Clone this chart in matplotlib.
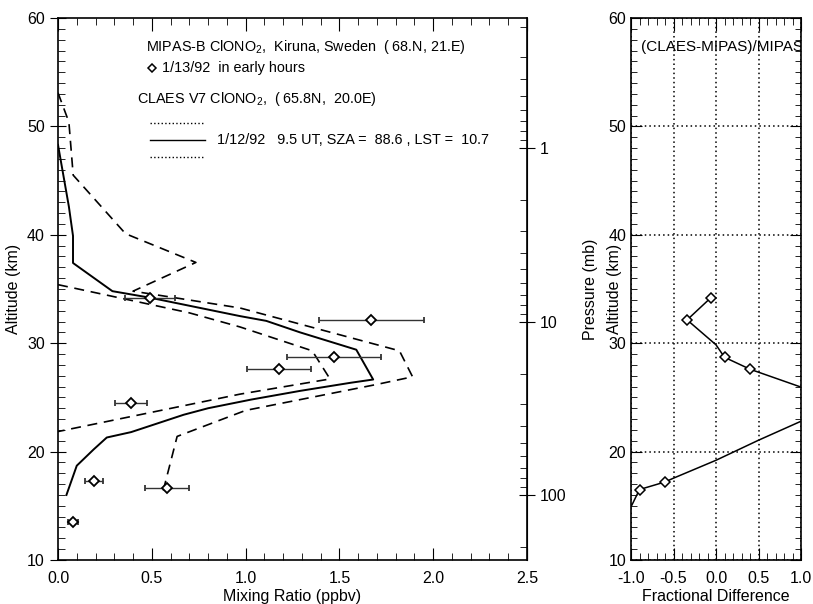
import numpy as np
import matplotlib.pyplot as plt
from matplotlib.lines import Line2D
from matplotlib.ticker import MultipleLocator, LogLocator, FixedLocator, FuncFormatter

plt.rcParams['font.family'] = ['Liberation Sans', 'DejaVu Sans']
plt.rcParams['mathtext.fontset'] = 'custom'
plt.rcParams['mathtext.rm'] = 'Liberation Sans'
plt.rcParams['mathtext.it'] = 'Liberation Sans'

# MIPAS-B balloon profile (1/13/92)
mipas_x = [0.49, 1.67, 1.47, 1.18, 0.39, 0.19, 0.58, 0.08]
mipas_alt = [34.2, 32.1, 28.7, 27.6, 24.5, 17.3, 16.6, 13.5]
mipas_err = [0.135, 0.28, 0.25, 0.17, 0.085, 0.048, 0.118, 0.025]

# CLAES V7 profile and its error envelope
claes_x = [0.0, 0.058, 0.08, 0.08, 0.29, 0.49, 0.97, 1.11, 1.29, 1.59, 1.68,
           1.56, 1.29, 1.03, 0.80, 0.67, 0.39, 0.26, 0.19, 0.10, 0.045]
claes_alt = [48.3, 42.6, 39.9, 37.4, 34.8, 34.2, 32.5, 32.06, 31.0, 29.4, 26.65,
             26.35, 25.6, 24.8, 24.0, 23.4, 21.8, 21.3, 20.2, 18.7, 16.0]
hi_x = [0.0, 0.058, 0.081, 0.36, 0.735, 0.40, 0.97, 1.82, 1.89, 1.70, 1.00, 0.635, 0.555]
hi_alt = [53.1, 50.4, 45.5, 40.1, 37.45, 34.8, 33.25, 29.3, 26.9, 26.2, 23.8, 21.4, 16.0]
lo_x = [0.0, 0.70, 0.97, 1.355, 1.45, 0.97, 0.0]
lo_alt = [35.4, 32.8, 31.5, 29.3, 26.7, 25.3, 21.85]

# fractional difference (CLAES-MIPAS)/MIPAS
fd_up_x = [-0.06, -0.34, 0.0, 0.10, 0.40, 1.0]
fd_up_alt = [34.2, 32.15, 29.85, 28.7, 27.6, 25.95]
fd_lo_x = [-1.0, -0.9, -0.6, -0.5, 0.0, 0.5, 1.0]
fd_lo_alt = [14.9, 16.5, 17.2, 17.55, 19.2, 21.05, 22.8]
fd_pts_x = [-0.06, -0.34, 0.10, 0.40, -0.90, -0.60]
fd_pts_alt = [34.2, 32.15, 28.7, 27.6, 16.5, 17.2]

# pressure scale: alt = 48 - 16*log10(p)
def alt2p(a):
    return 10 ** ((48.0 - np.asarray(a, float)) / 16.0)

def p2alt(p):
    return 48.0 - 16.0 * np.log10(np.clip(np.asarray(p, float), 1e-6, None))

fig = plt.figure(figsize=(8.13, 6.04), dpi=100)
ax = fig.add_axes([58 / 813, 1 - 560 / 604, 469 / 813, 542 / 604])
ax2 = fig.add_axes([631 / 813, 1 - 560 / 604, 170 / 813, 542 / 604])

dash = (0, (6, 4))
ax.plot(claes_x, claes_alt, color='black', lw=1.4)
ax.plot(hi_x, hi_alt, color='black', lw=1.2, linestyle=dash)
ax.plot(lo_x, lo_alt, color='black', lw=1.2, linestyle=dash)
ax.errorbar(mipas_x, mipas_alt, xerr=mipas_err, fmt='D', mfc='white', mec='black',
            mew=1.3, ms=5, ecolor='#333333', elinewidth=1.0, capsize=2, capthick=1.0,
            zorder=5)

ax.set_xlim(0, 2.5)
ax.set_ylim(10, 60)
ax.xaxis.set_major_locator(MultipleLocator(0.5))
ax.xaxis.set_minor_locator(MultipleLocator(0.1))
ax.yaxis.set_major_locator(MultipleLocator(10))
ax.yaxis.set_minor_locator(MultipleLocator(1))
ax.xaxis.set_major_formatter(FuncFormatter(lambda v, p: f'{v:.1f}'))
ax.tick_params(axis='x', which='both', direction='in', top=True, labelsize=11.5, pad=8)
ax.tick_params(axis='x', which='major', length=9)
ax.tick_params(axis='x', which='minor', length=5)
ax.tick_params(axis='y', which='major', direction='inout', length=12, labelsize=11.5, right=False)
ax.tick_params(axis='y', which='minor', direction='in', length=5, right=False)
ax.set_xlabel('Mixing Ratio (ppbv)', fontsize=11.5, labelpad=2)
ax.set_ylabel('Altitude (km)', fontsize=11.5, labelpad=4)

sec = ax.secondary_yaxis('right', functions=(alt2p, p2alt))
sec.yaxis.set_major_locator(FixedLocator([1, 10, 100]))
sec.yaxis.set_minor_locator(LogLocator(base=10, subs=np.arange(2, 10)))
sec.yaxis.set_major_formatter(FuncFormatter(lambda v, p: f'{v:g}'))
sec.yaxis.set_minor_formatter(FuncFormatter(lambda v, p: ''))
sec.tick_params(which='major', direction='inout', length=12, labelsize=11.5)
sec.tick_params(which='minor', direction='in', length=5)
sec.set_ylabel('Pressure (mb)', fontsize=11.5, labelpad=12)

for s in ax.spines.values():
    s.set_linewidth(1.2)

# legend block drawn as text
tx = ax.transAxes
def fx(v):
    return v / 2.5

def fy(a):
    return (a - 10) / 50.0

ax.text(fx(0.47), fy(57.3), 'MIPAS-B ClONO$_2$,  Kiruna, Sweden  ( 68.N, 21.E)',
        transform=tx, fontsize=10.4, va='center')
ax.plot([fx(0.50)], [fy(55.4)], 'D', mfc='white', mec='black', mew=1.1, ms=4, transform=tx)
ax.text(fx(0.557), fy(55.4), '1/13/92  in early hours', transform=tx, fontsize=10.4, va='center')
ax.text(fx(0.42), fy(52.5), 'CLAES V7 ClONO$_2$,  ( 65.8N,  20.0E)',
        transform=tx, fontsize=10.4, va='center')
for yy, st in [(50.3, ':'), (48.7, '-'), (47.2, ':')]:
    ax.add_line(Line2D([fx(0.493), fx(0.786)], [fy(yy), fy(yy)], color='black',
                       lw=1.0, linestyle=st, transform=tx))
ax.text(fx(0.849), fy(48.7), '1/12/92   9.5 UT, SZA =  88.6 , LST =  10.7',
        transform=tx, fontsize=10.4, va='center')

# right panel
ax2.plot(fd_up_x, fd_up_alt, color='black', lw=1.1)
ax2.plot(fd_lo_x, fd_lo_alt, color='black', lw=1.1)
ax2.plot(fd_pts_x, fd_pts_alt, 'D', mfc='white', mec='black', mew=1.1, ms=5, zorder=5)
ax2.set_xlim(-1, 1)
ax2.set_ylim(10, 60)
ax2.xaxis.set_major_locator(MultipleLocator(0.5))
ax2.xaxis.set_minor_locator(MultipleLocator(0.1))
ax2.yaxis.set_major_locator(MultipleLocator(10))
ax2.yaxis.set_minor_locator(MultipleLocator(1))
ax2.xaxis.set_major_formatter(FuncFormatter(lambda v, p: f'{v:.1f}'))
ax2.grid(True, which='major', color='black', linestyle=(0, (1, 2)), lw=1.1)
ax2.tick_params(axis='both', which='both', direction='in', top=True, right=True, labelsize=11.5)
ax2.tick_params(axis='x', which='major', length=9, pad=8)
ax2.tick_params(axis='x', which='minor', length=5)
ax2.tick_params(axis='y', which='major', length=8)
ax2.tick_params(axis='y', which='minor', length=4)
ax2.set_xlabel('Fractional Difference', fontsize=11.5, labelpad=2)
ax2.set_ylabel('Altitude (km)', fontsize=11.5)
ax2.yaxis.set_label_coords(-0.055, 0.5)
for s in ax2.spines.values():
    s.set_linewidth(1.2)
ax2.text(-0.88, 57.3, '(CLAES-MIPAS)/MIPAS', fontsize=11, va='center', clip_on=True)

fig.savefig('out.png', dpi=100)
